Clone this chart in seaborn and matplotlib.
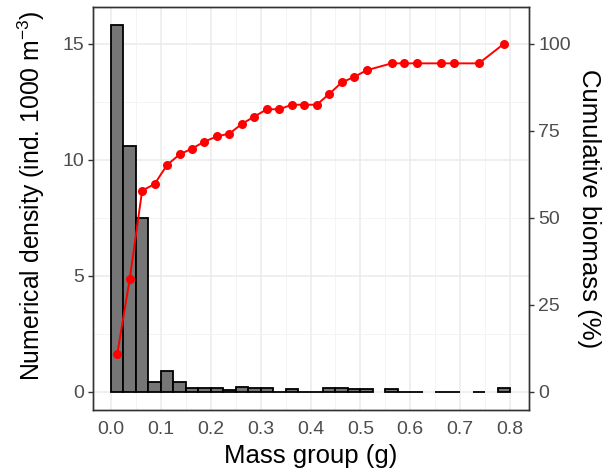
import numpy as np
import pandas as pd
import matplotlib
matplotlib.use("Agg")
import matplotlib.pyplot as plt
import seaborn as sns

# Mass group bins (g): 32 bins of width 0.025, values at bin centres
bin_centers = [0.0125 + 0.025 * i for i in range(32)]
bin_width = 0.025
# Numerical density (ind. 1000 m^-3); None = no data in that bin
density = [15.8, 10.6, 7.5, 0.4, 0.91, 0.4, 0.17, 0.17, 0.14, 0.07,
           0.2, 0.14, 0.14, 0.0, 0.1, 0.0, 0.0, 0.14, 0.14, 0.1,
           0.1, None, 0.1, 0.0, 0.0, None, 0.0, 0.0, None, 0.0,
           None, 0.17]
# Cumulative biomass (%)
cum_biomass = [10.7, 32.3, 57.8, 59.7, 65.2, 68.2, 69.9, 71.9, 73.4, 74.2,
               77.0, 79.1, 81.2, 81.2, 82.5, 82.5, 82.5, 85.6, 88.9, 90.5,
               92.4, None, 94.4, 94.4, 94.4, None, 94.4, 94.4, None, 94.4,
               None, 100.0]
x_ticks = [0.0, 0.1, 0.2, 0.3, 0.4, 0.5, 0.6, 0.7, 0.8]
left_ticks = [0, 5, 10, 15]
right_ticks = [0, 25, 50, 75, 100]

df = pd.DataFrame({"mass": bin_centers,
                   "density": pd.array(density, dtype="Float64").astype(float),
                   "cum": pd.array(cum_biomass, dtype="Float64").astype(float)})
dfb = df.dropna(subset=["density"])
dfl = df.dropna(subset=["cum"])

sns.set_theme(style="white")
plt.rcParams["font.family"] = ["Liberation Sans", "DejaVu Sans"]
plt.rcParams["mathtext.fontset"] = "custom"
plt.rcParams["mathtext.rm"] = "Liberation Sans"
plt.rcParams["mathtext.it"] = "Liberation Sans:italic"

fig = plt.figure(figsize=(6.10, 4.76), dpi=100)
ax = fig.add_axes([93 / 610, 1 - 410 / 476, (529 - 93) / 610, (410 - 7) / 476])

# grid like theme_bw
ax.set_axisbelow(True)
ax.set_xticks(x_ticks)
ax.set_xticks([0.05 + 0.1 * i for i in range(8)], minor=True)
ax.set_yticks(left_ticks)
ax.set_yticks([2.5, 7.5, 12.5], minor=True)
ax.grid(True, which="major", color="#ebebeb", linewidth=1.1)
ax.grid(True, which="minor", color="#f2f2f2", linewidth=0.6)

ax.bar(dfb["mass"], dfb["density"], width=bin_width, color="#767676",
       edgecolor="black", linewidth=1.3, zorder=2)

ymax = 15.8
exp = 0.05 * ymax
ax.set_ylim(-exp, ymax + exp)
ax.set_xlim(-0.036, 0.838)

ax2 = ax.twinx()
sns.lineplot(data=dfl, x="mass", y="cum", ax=ax2, color="#ff0000",
             marker="o", markersize=6.5, markeredgewidth=0, linewidth=1.4,
             zorder=3)
scale = 100 / 15
ax2.set_ylim(-exp * scale, (ymax + exp) * scale)
ax2.set_yticks(right_ticks)
ax2.set_xlim(-0.036, 0.838)

tick_kw = dict(labelsize=14, labelcolor="#4d4d4d", color="#333333",
               length=3.6, width=1.0)
ax.tick_params(axis="x", which="major", direction="out", pad=4.5, **tick_kw)
ax.tick_params(axis="y", which="major", direction="out", pad=3, **tick_kw)
ax.tick_params(axis="both", which="minor", length=0)
ax2.tick_params(axis="y", which="major", direction="out", pad=3, **tick_kw)
ax2.tick_params(axis="y", which="minor", length=0)
ax.set_xticklabels(["%.1f" % t for t in x_ticks])

for a in (ax, ax2):
    for s in a.spines.values():
        s.set_color("#333333")
        s.set_linewidth(1.0)

ax.set_xlabel("Mass group (g)", fontsize=18.5, color="black", labelpad=4)
ax.set_ylabel("Numerical density (ind. 1000 m$^{-3}$)", fontsize=17.8,
              color="black")
ax.yaxis.set_label_coords(-0.105, (410 - 196) / 403)
ax2.set_ylabel("Cumulative biomass (%)", fontsize=18.5, color="black",
               rotation=270, labelpad=22)

fig.savefig("out.png", dpi=100)
